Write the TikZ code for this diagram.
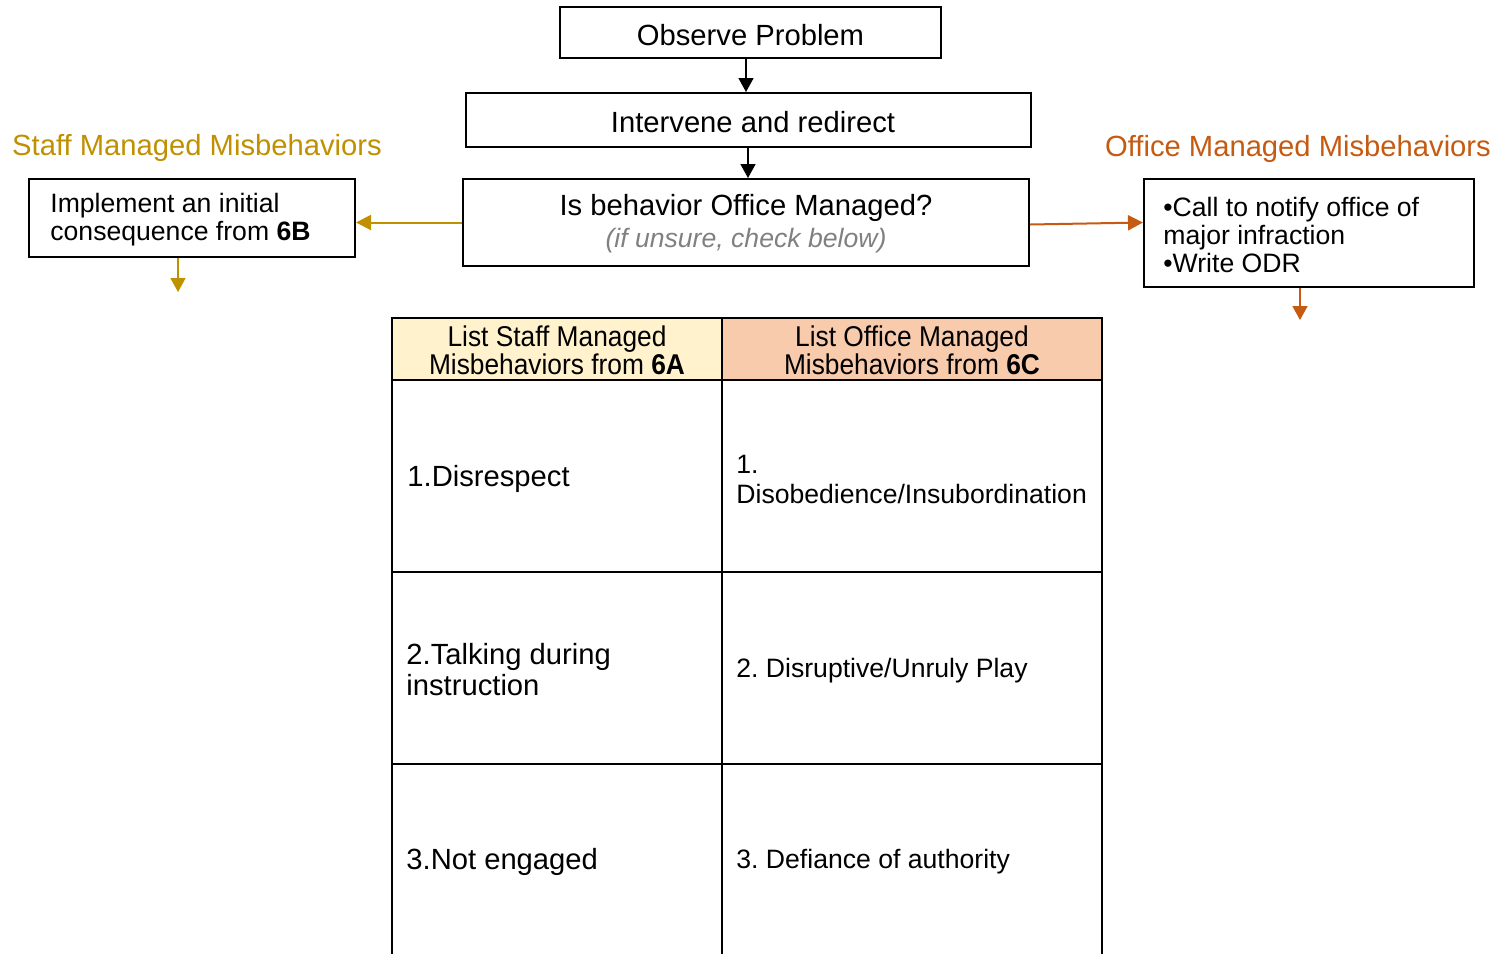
\documentclass[tikz,border=0pt]{standalone}
\usepackage{fontspec}
\setmainfont{Liberation Sans}
\newfontfamily\narrowfont[FakeStretch=0.92]{Liberation Sans}
\usetikzlibrary{arrows.meta}
\definecolor{gold}{HTML}{BF9000}
\definecolor{rust}{HTML}{C55A11}
\definecolor{hdrA}{HTML}{FFF2CC}
\definecolor{hdrB}{HTML}{F8CBAD}
\definecolor{note}{HTML}{808080}
\newcommand\fL{\fontsize{14.6}{15.5}\selectfont}
\newcommand\fM{\fontsize{13.3}{14}\selectfont}
\newcommand\fH{\narrowfont\fontsize{14.3}{14}\selectfont}
\frenchspacing
\begin{document}
\begin{tikzpicture}[x=0.5pt,y=-0.5pt,
  box/.style={draw,line width=1pt,rectangle,inner sep=0pt,align=center},
  cell/.style={draw,line width=1pt,rectangle,inner sep=0pt,align=center},
  celltext/.style={anchor=west,inner sep=0pt,align=left},
  flow/.style={line width=0.8pt,-{Triangle[width=7.5pt,length=7pt]}},
  sideflow/.style={line width=1pt,-{Triangle[width=7.5pt,length=7.5pt]}},
  title/.style={inner sep=0pt,font=\fL}]
\useasboundingbox (0,0) rectangle (1512,954);

% flow boxes
\node[box,minimum width=190.5pt,minimum height=25.5pt] (obs) at (750.5,32.5) {};
\node[inner sep=0pt,font=\fL] (obst) at (750.5,35) {Observe Problem};
\node[box,minimum width=282.5pt,minimum height=27pt] (int) at (748.5,120) {};
\node[inner sep=0pt,font=\fL] (intt) at (753,122) {Intervene and redirect};
\node[box,minimum width=283pt,minimum height=43.5pt] (isb) at (746,222.5) {};
\node[inner sep=0pt,align=center] (isbt) at (746,224)
  {{\fL Is behavior Office Managed?}\\[2.5pt]{\fM\itshape\color{note}(if unsure, check below)}};
\node[box,minimum width=163pt,minimum height=39pt] (left) at (192,218) {};
\node[celltext,font=\fM] (lefttext) at (50,220) {Implement an initial\\consequence from \textbf{6B}};
\node[box,minimum width=165pt,minimum height=54pt] (right) at (1309,233) {};
\node[celltext,font=\fM] (righttext) at (1163,235) {\textbullet Call to notify office of\\major infraction\\\textbullet Write ODR};

% titles
\node[title,text=gold] (staff) at (197,148) {Staff Managed Misbehaviors};
\node[title,text=rust] (office) at (1298,149) {Office Managed Misbehaviors};

% connectors
\coordinate (c1) at (746,0);
\coordinate (c2) at (748,0);
\draw[flow] (c1 |- obs.south) -- (c1 |- int.north);
\draw[flow] (c2 |- int.south) -- (c2 |- isb.north);
\draw[sideflow,gold] (isb.west) -- (isb.west -| left.east);
\draw[sideflow,rust] ([yshift=-1pt]isb.east) -- (isb.east -| right.west);
\coordinate (ld) at (178,292);
\draw[flow,gold] (ld |- left.south) -- (ld);
\coordinate (rd) at (1300,320);
\draw[flow,rust] (rd |- right.south) -- (rd);

% table header
\node[cell,fill=hdrA,minimum width=165pt,minimum height=31pt] (h1) at (557,349) {};
\node[cell,fill=hdrB,minimum width=190pt,minimum height=31pt] (h2) at (912,349) {};
\node[inner sep=0pt,align=center,font=\fH] (h1t) at (557,350) {List Staff Managed\\Misbehaviors from \textbf{6A}};
\node[inner sep=0pt,align=center,font=\fH] (h2t) at (912,350) {List Office Managed\\Misbehaviors from \textbf{6C}};

% table rows
\node[cell,minimum width=165pt,minimum height=96pt] (a1) at (557,476) {};
\node[cell,minimum width=190pt,minimum height=96pt] (b1) at (912,476) {};
\node[cell,minimum width=165pt,minimum height=96pt] (a2) at (557,668) {};
\node[cell,minimum width=190pt,minimum height=96pt] (b2) at (912,668) {};
\draw[line width=1pt] (392,764) -- (1102,764);
\draw[line width=1pt] (392,764) -- (392,960);
\draw[line width=1pt] (722,764) -- (722,960);
\draw[line width=1pt] (1102,764) -- (1102,960);

\node[celltext,font=\fL] (a1t) at (407,479) {1.Disrespect};
\node[celltext,font=\fM,text depth=0pt] (b1t) at (736,479) {1.\\[1pt]Disobedience/Insubordination};
\node[celltext,font=\fL] (a2t) at (406,670) {2.Talking during\\instruction};
\node[celltext,font=\fM] (b2t) at (736,671) {2. Disruptive/Unruly Play};
\node[celltext,font=\fL] (a3t) at (406,862) {3.Not engaged};
\node[celltext,font=\fM] (b3t) at (736,862) {3. Defiance of authority};
\end{tikzpicture}
\end{document}
